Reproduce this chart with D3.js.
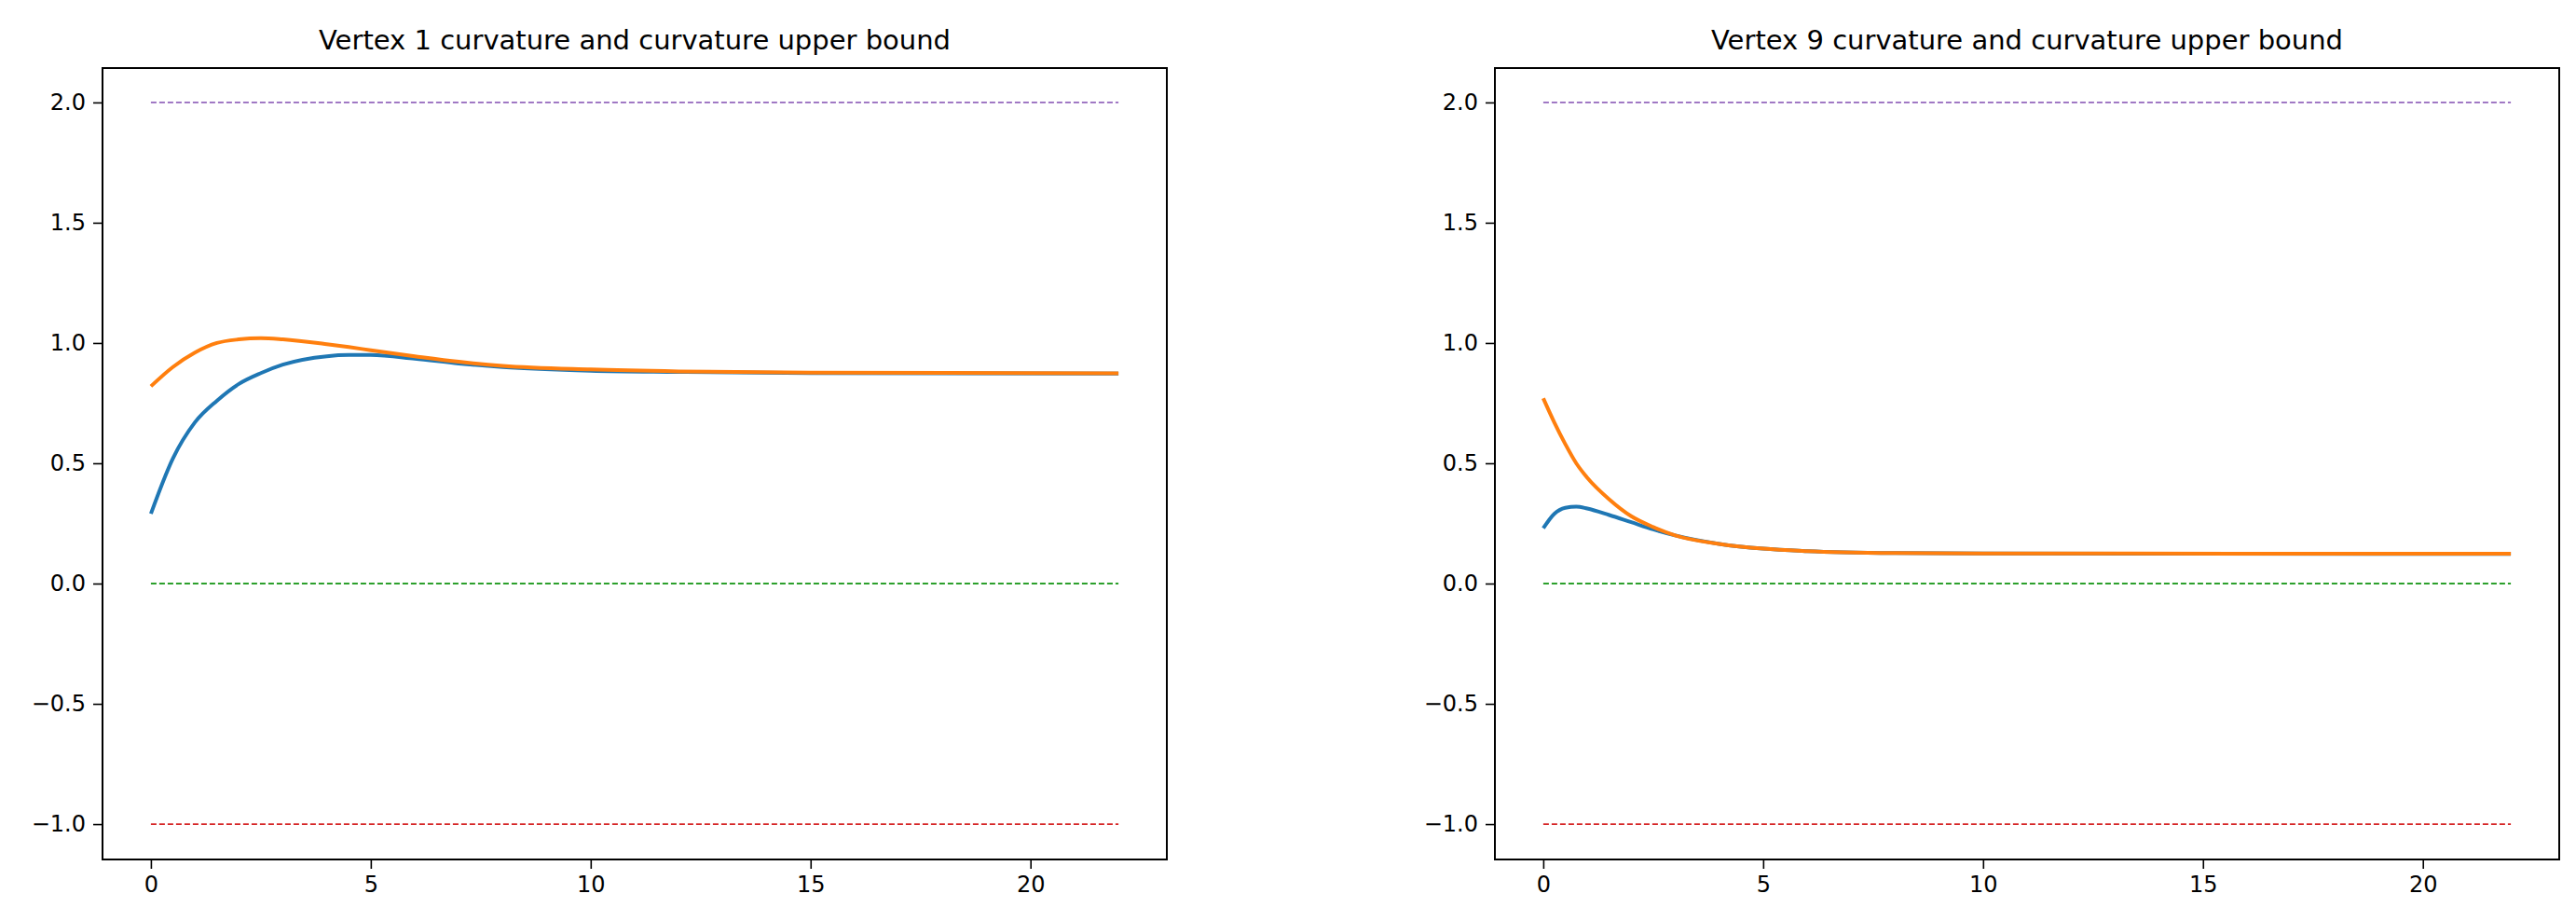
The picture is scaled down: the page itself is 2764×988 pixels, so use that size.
<!DOCTYPE html>
<html>
<head>
<meta charset="utf-8">
<script src="https://cdn.jsdelivr.net/npm/d3@7"></script>
<style>
  body { margin: 0; background: #fff; }
  text { font-family: "DejaVu Sans", sans-serif; }
</style>
</head>
<body>
<svg id="chart" width="2764" height="988"></svg>
<script>
// Vertex 1 curves
const v1Time = [0, 0.5, 1, 1.5, 2, 2.5, 3, 4, 4.5, 5, 6, 7, 8, 10, 12, 15, 22];
const v1Curvature = [0.29, 0.52, 0.67, 0.76, 0.83, 0.875, 0.91, 0.945, 0.95, 0.95, 0.935, 0.915, 0.9, 0.885, 0.88, 0.875, 0.873];
const v1Bound = [0.82, 0.9, 0.96, 1.0, 1.015, 1.02, 1.015, 0.995, 0.983, 0.97, 0.945, 0.922, 0.905, 0.89, 0.882, 0.877, 0.874];

// Vertex 9 curves
const v9Time = [0, 0.25, 0.5, 0.75, 1, 1.5, 2, 2.5, 3, 4, 5, 6, 8, 10, 22];
const v9Curvature = [0.23, 0.29, 0.315, 0.32, 0.312, 0.285, 0.255, 0.225, 0.2, 0.165, 0.145, 0.135, 0.127, 0.125, 0.123];
const v9Bound = [0.77, 0.67, 0.58, 0.5, 0.44, 0.35, 0.28, 0.235, 0.2, 0.165, 0.145, 0.135, 0.127, 0.125, 0.124];

// reference levels
const refLevels = [2, 0, -1];
const refColors = ["#9467bd", "#2ca02c", "#d62728"];
const xTicks = [0, 5, 10, 15, 20];
const yTicks = [-1.0, -0.5, 0.0, 0.5, 1.0, 1.5, 2.0];

const panels = [
  { title: "Vertex 1 curvature and curvature upper bound", left: 110, t: v1Time, k: v1Curvature, b: v1Bound },
  { title: "Vertex 9 curvature and curvature upper bound", left: 1604, t: v9Time, k: v9Curvature, b: v9Bound }
];

const svg = d3.select("#chart");
const axTop = 73, w = 1142, h = 849;

panels.forEach((p) => {
  const g = svg.append("g").attr("transform", `translate(${p.left},${axTop})`);
  const x = d3.scaleLinear().domain([-1.1, 23.1]).range([0, w]);
  const y = d3.scaleLinear().domain([-1.147, 2.143]).range([h, 0]);

  refLevels.forEach((lv, i) => {
    g.append("line")
      .attr("x1", x(0)).attr("x2", x(22))
      .attr("y1", y(lv)).attr("y2", y(lv))
      .attr("stroke", refColors[i])
      .attr("stroke-width", 1.8)
      .attr("stroke-dasharray", "6,3");
  });

  const line = d3.line()
    .x((d, i) => x(p.t[i]))
    .y((d) => y(d))
    .curve(d3.curveMonotoneX);

  g.append("path").attr("d", line(p.k)).attr("fill", "none")
    .attr("stroke", "#1f77b4").attr("stroke-width", 4);
  g.append("path").attr("d", line(p.b)).attr("fill", "none")
    .attr("stroke", "#ff7f0e").attr("stroke-width", 4);

  const xAxis = g.append("g").attr("transform", `translate(0,${h})`)
    .call(d3.axisBottom(x).tickValues(xTicks).tickSize(10).tickPadding(8).tickFormat(d3.format("d")));
  const yAxis = g.append("g")
    .call(d3.axisLeft(y).tickValues(yTicks).tickSize(10).tickPadding(8)
      .tickFormat((d) => d3.format(".1f")(d).replace("-", "\u2212")));
  [xAxis, yAxis].forEach((a) => {
    a.select(".domain").remove();
    a.selectAll("line").attr("stroke", "#000").attr("stroke-width", 1.6);
    a.selectAll("text").attr("font-size", 24).attr("fill", "#000")
      .attr("font-family", "DejaVu Sans, sans-serif");
  });

  g.append("rect").attr("width", w).attr("height", h)
    .attr("fill", "none").attr("stroke", "#000").attr("stroke-width", 2);

  g.append("text")
    .attr("x", w / 2).attr("y", -20)
    .attr("text-anchor", "middle")
    .attr("font-size", 29)
    .text(p.title);
});
</script>
</body>
</html>
